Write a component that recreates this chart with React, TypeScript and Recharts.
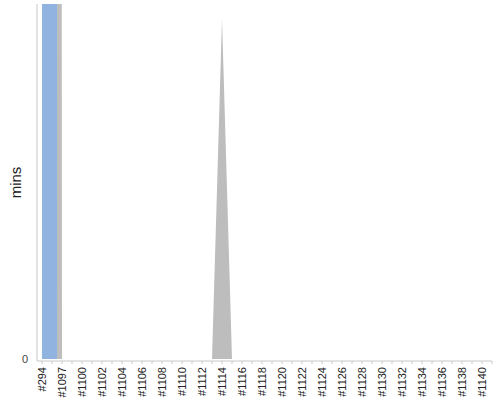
import React from 'react';
import { AreaChart, Area, XAxis, YAxis, Label } from 'recharts';

// Build labels (categories)
const builds: string[] = [
  '#294', '#1096', '#1097', '#1098', '#1100', '#1101', '#1102', '#1103', '#1104', '#1105',
  '#1106', '#1107', '#1108', '#1109', '#1110', '#1111', '#1112', '#1113', '#1114', '#1115',
  '#1116', '#1117', '#1118', '#1119', '#1120', '#1121', '#1122', '#1123', '#1124', '#1125',
  '#1126', '#1127', '#1128', '#1129', '#1130', '#1131', '#1132', '#1133', '#1134', '#1135',
  '#1136', '#1137', '#1138', '#1139', '#1140', '#1141',
];

// Gray series (mins) – off-scale at the first two builds
const grayMins: number[] = [
  4000, 4000, 0, 0, 0, 0, 0, 0, 0, 0,
  0, 0, 0, 0, 0, 0, 0, 0, 100, 0,
  0, 0, 0, 0, 0, 0, 0, 0, 0, 0,
  0, 0, 0, 0, 0, 0, 0, 0, 0, 0,
  0, 0, 0, 0, 0, 0,
];

// Blue series (mins)
const blueMins: number[] = [
  4000, 4000, 0, 0, 0, 0, 0, 0, 0, 0,
  0, 0, 0, 0, 0, 0, 0, 0, 0, 0,
  0, 0, 0, 0, 0, 0, 0, 0, 0, 0,
  0, 0, 0, 0, 0, 0, 0, 0, 0, 0,
  0, 0, 0, 0, 0, 0,
];

const yTicks: number[] = [0];

const data = builds.map((b, i) => ({ build: b, gray: grayMins[i], blue: blueMins[i] }));

const FONT = '"Liberation Sans", Arial, sans-serif';

const XTick = (props: any) => {
  const { x, y, payload } = props;
  const idx = props.index ?? payload?.index ?? 0;
  if (idx % 2 !== 0) return <g />;
  return (
    <text
      x={x}
      y={y}
      transform={`rotate(-90, ${x}, ${y})`}
      textAnchor="end"
      dominantBaseline="central"
      fontSize={11}
      fill="#222"
      fontFamily={FONT}
    >
      {payload.value}
    </text>
  );
};

const YTitle = (props: any) => {
  const vb = props.viewBox || { x: 0, y: 4, width: 37, height: 357 };
  const cx = vb.x + 15;
  const cy = vb.y + vb.height / 2;
  return (
    <text
      x={cx}
      y={cy}
      transform={`rotate(-90, ${cx}, ${cy})`}
      textAnchor="middle"
      dominantBaseline="central"
      fontSize={15}
      fill="#222"
      fontFamily={FONT}
    >
      mins
    </text>
  );
};

export default function App() {
  return (
    <div style={{ position: 'absolute', left: 0, top: 0, width: 500, height: 400, background: '#fff' }}>
      <AreaChart width={500} height={400} data={data} margin={{ top: 4, right: 8, left: 0, bottom: 0 }}>
        <XAxis
          dataKey="build"
          interval={0}
          height={39}
          padding={{ left: 5, right: 0 }}
          tick={<XTick />}
          tickSize={3}
          tickMargin={3}
          axisLine={{ stroke: '#c8c8c8' }}
          tickLine={{ stroke: '#c8c8c8' }}
        />
        <YAxis
          width={37}
          domain={[-0.59, 104.4]}
          allowDataOverflow
          ticks={yTicks}
          tickLine={false}
          tickSize={0}
          tickMargin={9}
          axisLine={{ stroke: '#c8c8c8' }}
          tick={{ fontSize: 11, fill: '#444', fontFamily: FONT }}
        >
          <Label content={<YTitle />} />
        </YAxis>
        <Area
          type="linear"
          dataKey="gray"
          stroke="none"
          fill="#bdbdbd"
          fillOpacity={1}
          dot={false}
          activeDot={false}
          isAnimationActive={false}
        />
        <Area
          type="step"
          dataKey="blue"
          stroke="none"
          fill="#90b3df"
          fillOpacity={1}
          dot={false}
          activeDot={false}
          isAnimationActive={false}
        />
      </AreaChart>
    </div>
  );
}
